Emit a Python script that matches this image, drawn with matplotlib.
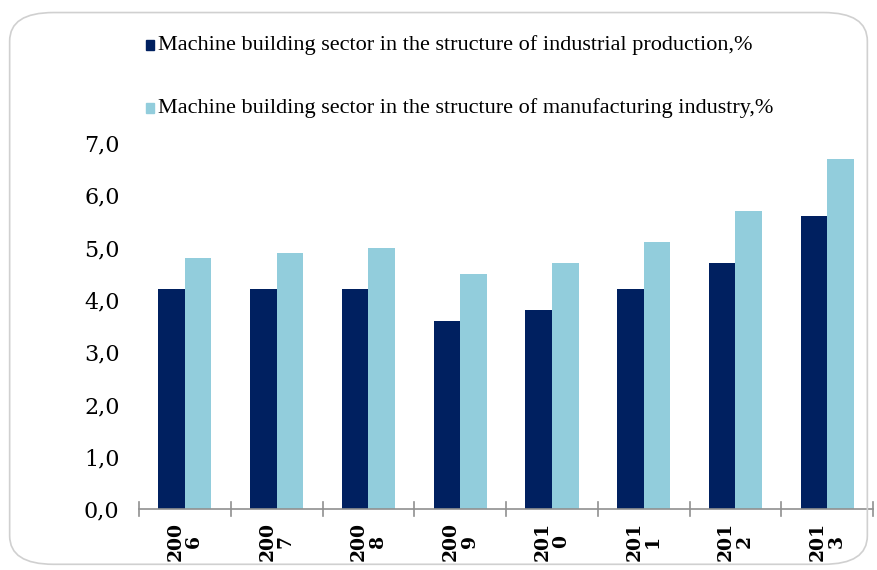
import matplotlib
matplotlib.use('Agg')
import matplotlib.pyplot as plt
import matplotlib.patches as mpatches
import numpy as np

# data
years = ['200\n6', '200\n7', '200\n8', '200\n9', '201\n0', '201\n1', '201\n2', '201\n3']
industrial = [4.2, 4.2, 4.2, 3.6, 3.8, 4.2, 4.7, 5.6]
manufacturing = [4.8, 4.9, 5.0, 4.5, 4.7, 5.1, 5.7, 6.7]
yticks = [0, 1, 2, 3, 4, 5, 6, 7]
label_ind = 'Machine building sector in the structure of industrial production,%'
label_man = 'Machine building sector in the structure of manufacturing industry,%'

dark = '#002060'
light = '#92CDDC'

fig = plt.figure(figsize=(8.77, 5.70), dpi=100)

# rounded outer frame
frame = mpatches.FancyBboxPatch((0.011, 0.01), 0.978, 0.968,
                                boxstyle='round,pad=0,rounding_size=0.05',
                                transform=fig.transFigure, fill=False,
                                edgecolor='#d0d0d0', linewidth=1.2)
fig.patches.append(frame)

ax = fig.add_axes([0.1585, 0.107, 0.837, 0.642])
x = np.arange(len(years))
w = 0.29
ax.bar(x - w / 2, industrial, w, color=dark)
ax.bar(x + w / 2, manufacturing, w, color=light)

ax.set_xlim(-0.5, len(years) - 0.5)
ax.set_ylim(0, 7)
ax.set_yticks(yticks)
ax.set_yticklabels(['%d,0' % v for v in yticks], fontsize=16, family='DejaVu Serif')
ax.tick_params(axis='y', length=0, pad=14)

ax.set_xticks(x)
ax.set_xticklabels(years, rotation=90, fontsize=13.5, family='DejaVu Serif',
                   fontweight='semibold', linespacing=1.05)
ax.tick_params(axis='x', length=0, pad=9)
# category boundary ticks
for b in np.arange(-0.5, len(years), 1.0):
    ax.plot([b, b], [-0.13, 0.13], color='#909090', lw=1.2, clip_on=False)

for s in ['top', 'right', 'left']:
    ax.spines[s].set_visible(False)
ax.spines['bottom'].set_color('#909090')
ax.spines['bottom'].set_linewidth(1.2)

# legend drawn by hand
for ypos, col, txt in [(1 - 45 / 570, dark, label_ind), (1 - 108 / 570, light, label_man)]:
    fig.patches.append(mpatches.Rectangle((146 / 877, ypos - 5 / 570), 8 / 877, 10 / 570,
                                          transform=fig.transFigure, color=col))
    fig.text(158 / 877, ypos, txt, fontsize=16, family='Liberation Serif', va='center')

plt.savefig('out.png', dpi=100)
